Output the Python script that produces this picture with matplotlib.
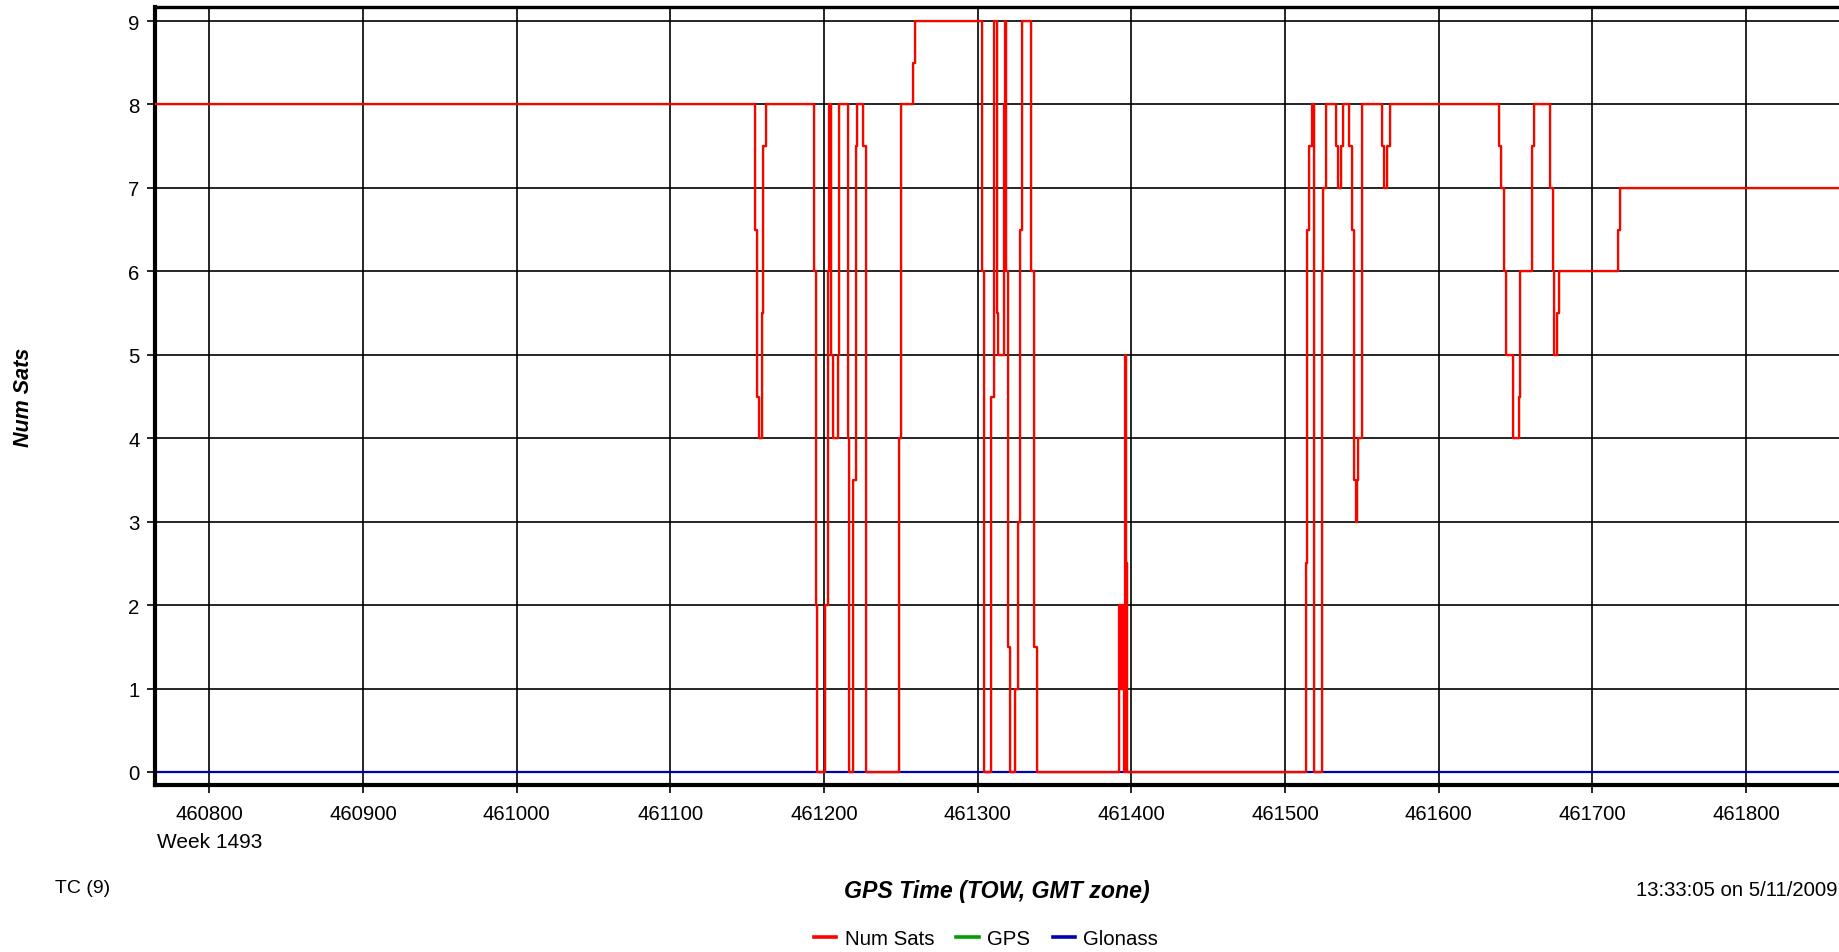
import matplotlib
matplotlib.use("Agg")
import matplotlib.pyplot as plt
from matplotlib.ticker import FixedLocator

plt.rcParams['font.family'] = ['Liberation Sans', 'DejaVu Sans']

# ---------------- data (GPS time of week, seconds) ----------------
num_sats_time = [
    460760.0, 461155.1, 461156.6, 461157.9, 461159.5, 461160.5, 461162.1,
    461193.5, 461194.8, 461195.7, 461200.6, 461202.4, 461203.5, 461204.5,
    461205.6, 461208.9, 461210.0, 461215.4, 461216.5, 461219.0, 461220.6,
    461221.6, 461225.5, 461227.3, 461249.0, 461250.4, 461257.7, 461259.2,
    461302.8, 461304.0, 461308.9, 461310.4, 461312.6, 461313.6, 461316.9,
    461318.0, 461318.4, 461320.0, 461321.2, 461324.5, 461326.2, 461327.7,
    461328.8, 461334.8, 461336.4, 461338.5, 461392.2, 461393.0, 461393.7,
    461394.4, 461395.0, 461395.9, 461396.5, 461397.2, 461513.7, 461514.6,
    461515.9, 461517.4, 461519.0, 461523.9, 461525.0, 461526.5, 461533.2,
    461534.8, 461536.5, 461538.0, 461541.9, 461543.4, 461545.0, 461546.3,
    461546.9, 461547.8, 461550.0, 461563.0, 461564.5, 461566.6, 461568.4,
    461639.0, 461640.5, 461642.7, 461644.0, 461648.1, 461652.0, 461653.1,
    461660.7, 461662.2, 461672.7, 461674.2, 461675.3, 461677.0, 461678.5,
    461716.7, 461717.8, 461870.0,
]
num_sats_val = [
    8, 6.5, 4.5, 4, 5.5, 7.5, 8,
    6, 2, 0, 2, 6, 8, 5,
    4, 5, 8, 4, 0, 3.5, 7.5,
    8, 7.5, 0, 4, 8, 8.5, 9,
    6, 0, 4.5, 9, 5.5, 5, 8,
    9, 6, 1.5, 0, 1, 3, 6.5,
    9, 6, 1.5, 0, 2, 1, 2,
    1, 0, 5, 2.5, 0, 2.5, 6.5,
    7.5, 8, 0, 6, 7, 8, 7.5,
    7, 7.5, 8, 7.5, 6.5, 3.5, 3,
    3.5, 4, 8, 7.5, 7, 7.5, 8,
    7.5, 7, 6, 5, 4, 4.5, 6,
    7.5, 8, 7, 6, 5, 5.5, 6,
    6.5, 7, 7,
]
# GPS-only count equals the total (no Glonass satellites tracked)
gps_time = num_sats_time
gps_val = num_sats_val
glonass_time = [460760.0, 461870.0]
glonass_val = [0, 0]

x_ticks = [460800, 460900, 461000, 461100, 461200, 461300,
           461400, 461500, 461600, 461700, 461800]
y_ticks = [0, 1, 2, 3, 4, 5, 6, 7, 8, 9]

x_label = "GPS Time (TOW, GMT zone)"
y_label = "Num Sats"
week_label = "Week 1493"
left_note = "TC (9)"
right_note = "13:33:05 on 5/11/2009"

# ---------------- figure ----------------
W, H = 1840, 953
fig = plt.figure(figsize=(W / 100, H / 100), dpi=100)
ax = fig.add_axes([155 / W, 1 - 786 / H, 1 - 155 / W, (786 - 8) / H])

ax.set_xlim(460764.7, 461861.2)
ax.set_ylim(-0.156, 9.168)

ax.xaxis.set_major_locator(FixedLocator(x_ticks))
ax.yaxis.set_major_locator(FixedLocator(y_ticks))
ax.set_xticklabels([str(t) for t in x_ticks])
ax.set_yticklabels([str(t) for t in y_ticks])

ax.grid(True, color='black', linewidth=1.2, zorder=0)
ax.set_axisbelow(True)

l_glo, = ax.step(glonass_time, glonass_val, where='post', color='#0000b0',
                 linewidth=1.6, zorder=2, label='Glonass')
l_gps, = ax.step(gps_time, gps_val, where='post', color='#00a000',
                 linewidth=1.0, zorder=3, label='GPS')
l_num, = ax.step(num_sats_time, num_sats_val, where='post', color='#ff0000',
                 linewidth=1.6, zorder=4, label='Num Sats')

for side in ('left', 'bottom'):
    ax.spines[side].set_linewidth(3.0)
    ax.spines[side].set_color('black')
ax.spines['top'].set_linewidth(2.4)
ax.spines['top'].set_color('black')
ax.spines['right'].set_visible(False)

ax.tick_params(axis='both', direction='out', length=6, width=1.2,
               colors='black', labelsize=14.7)
ax.tick_params(axis='y', pad=5)
ax.tick_params(axis='x', pad=8)

ax.annotate(week_label, xy=(460800, 0), xycoords=('data', 'axes fraction'),
            xytext=(0, -41), textcoords='offset points', ha='center',
            va='center', fontsize=15)

fig.text(24 / W, 1 - 397 / H, y_label, rotation=90, ha='center', va='center',
         fontsize=15.5, fontweight='bold', fontstyle='italic')
fig.text(997 / W, 1 - 892 / H, x_label, ha='center', va='center',
         fontsize=16.7, fontweight='bold', fontstyle='italic')
fig.text(55 / W, 1 - 889 / H, left_note, ha='left', va='center', fontsize=14)
fig.text(1838 / W, 1 - 891 / H, right_note, ha='right', va='center',
         fontsize=14.6)

leg = fig.legend([l_num, l_gps, l_glo], ['Num Sats', 'GPS', 'Glonass'],
                 loc='center', bbox_to_anchor=(986 / W, 1 - 940 / H),
                 ncol=3, frameon=False, fontsize=14.7, handlelength=1.1,
                 handletextpad=0.4, columnspacing=1.1, borderpad=0,
                 borderaxespad=0)
for h in leg.legend_handles:
    h.set_linewidth(2.6)

fig.savefig("out.png", dpi=100)
